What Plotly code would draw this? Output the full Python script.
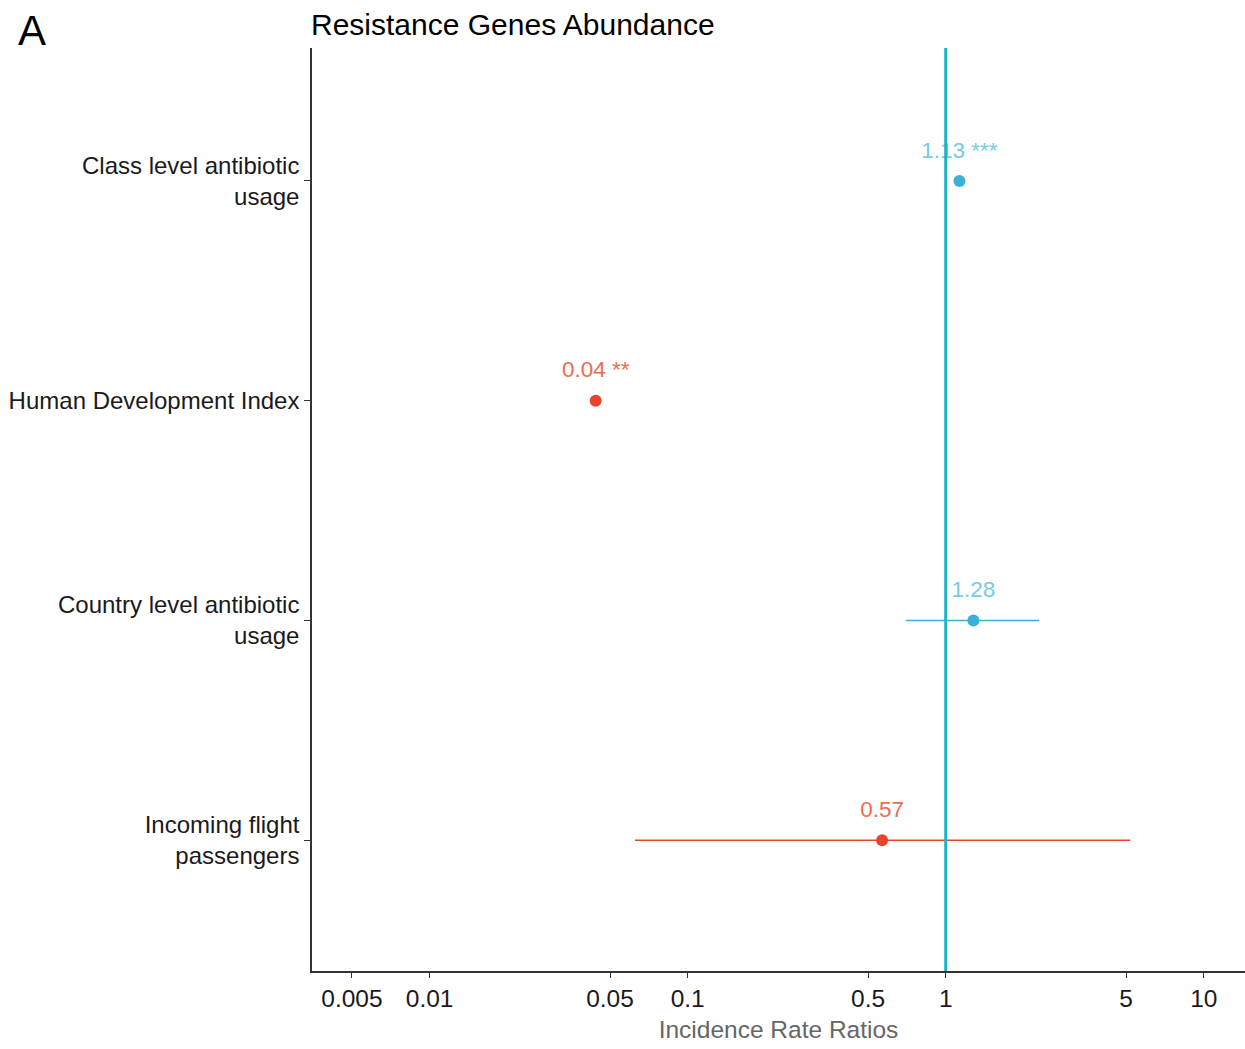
import numpy as np
import plotly.graph_objects as go

# ---- data ----
terms = ["Class level antibiotic<br>usage", "Human Development Index",
         "Country level antibiotic<br>usage", "Incoming flight<br>passengers"]
irr = [1.13, 0.044, 1.28, 0.567]
ci_low = [None, None, 0.70, 0.0625]
ci_high = [None, None, 2.30, 5.19]
labels = ["1.13 ***", "0.04 **", "1.28", "0.57"]
positive = [True, False, True, False]
x_ticks = [0.005, 0.01, 0.05, 0.1, 0.5, 1, 5, 10]
x_ticktext = ["0.005", "0.01", "0.05", "0.1", "0.5", "1", "5", "10"]
ref_value = 1

# ---- style ----
BLUE = "#3AB0D8"
RED = "#E8432D"
BLUE_LBL = "#76CBE6"
RED_LBL = "#F06A50"
REF_COL = "#1CB3C6"
FONT = "Liberation Sans, Arial, sans-serif"

ypos = list(range(1, len(terms) + 1))
fig = go.Figure()

for i, y in enumerate(ypos):
    col = BLUE if positive[i] else RED
    if ci_low[i] is not None:
        fig.add_trace(go.Scatter(x=[ci_low[i], ci_high[i]], y=[y, y], mode="lines",
                                 line=dict(color=col, width=1.5), hoverinfo="skip",
                                 showlegend=False))

fig.add_trace(go.Scatter(x=irr, y=ypos, mode="markers",
                         marker=dict(size=12, color=[BLUE if p else RED for p in positive]),
                         showlegend=False))

label_offset = 0.132
fig.add_trace(go.Scatter(x=irr, y=[y - label_offset for y in ypos], mode="text",
                         text=labels, textposition="middle center",
                         textfont=dict(size=22.5, family=FONT,
                                       color=[BLUE_LBL if p else RED_LBL for p in positive]),
                         showlegend=False))

fig.add_trace(go.Scatter(x=[ref_value, ref_value], y=[0.3, 4.7], mode="lines",
                         line=dict(color=REF_COL, width=3), showlegend=False,
                         hoverinfo="skip"))

fig.update_xaxes(type="log", range=[np.log10(0.0035), np.log10(14.45)],
                 tickvals=x_ticks, ticktext=x_ticktext,
                 showgrid=False, zeroline=False, showline=True,
                 linecolor="#333333", linewidth=1.5,
                 ticks="outside", ticklen=5, tickcolor="#333333", tickwidth=1.2,
                 tickfont=dict(size=24.5, color="#1a1a1a", family=FONT),
                 title=dict(text="Incidence Rate Ratios", standoff=10,
                            font=dict(size=24.5, color="#666666", family=FONT)))
fig.update_yaxes(range=[4.595, 0.395], tickvals=ypos, ticktext=terms,
                 showgrid=False, zeroline=False, showline=True,
                 linecolor="#333333", linewidth=1.5,
                 ticks="outside", ticklen=6, tickcolor="#333333", tickwidth=1.2,
                 tickfont=dict(size=24, color="#1a1a1a", family=FONT))

fig.add_annotation(text="Resistance Genes Abundance", xref="paper", yref="paper",
                   x=-3 / 933, y=1 + 24 / 923, xanchor="left", yanchor="middle",
                   showarrow=False, font=dict(size=30, color="#000000", family=FONT))
fig.add_annotation(text="A", xref="paper", yref="paper",
                   x=(32 - 312) / 933, y=1 + 18 / 923, xanchor="center", yanchor="middle",
                   showarrow=False, font=dict(size=42, color="#000000", family=FONT))

fig.update_layout(width=1245, height=1049, margin=dict(l=312, r=0, t=48, b=78),
                  plot_bgcolor="white", paper_bgcolor="white",
                  font=dict(family=FONT))

fig.write_html("out.html")
